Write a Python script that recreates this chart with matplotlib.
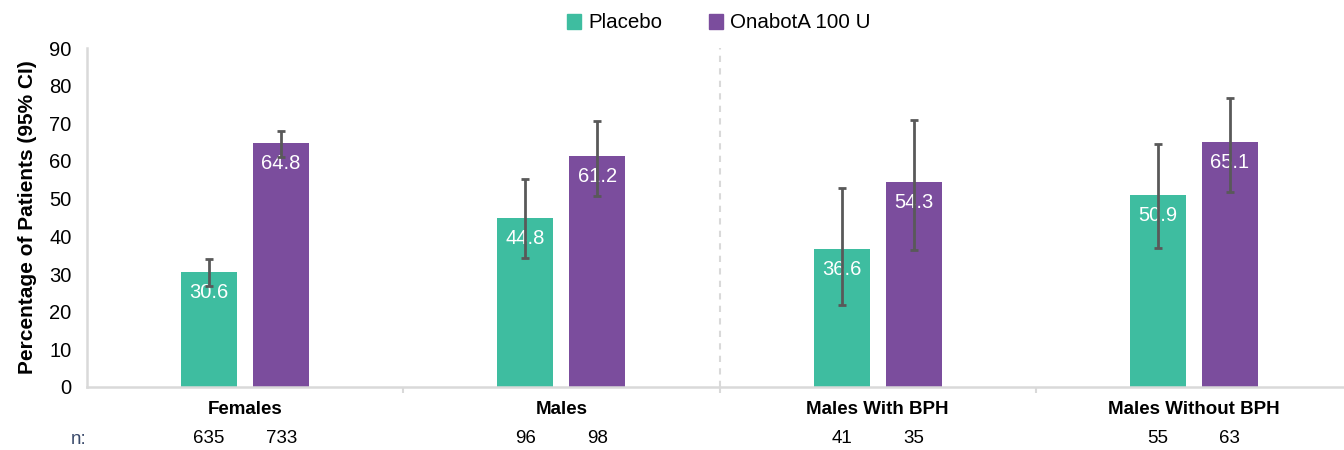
import matplotlib
matplotlib.use("Agg")
import matplotlib.pyplot as plt
import numpy as np
from matplotlib.patches import Patch

plt.rcParams['font.family'] = ['Liberation Sans', 'DejaVu Sans']

categories = ["Females", "Males", "Males With BPH", "Males Without BPH"]
placebo = [30.6, 44.8, 36.6, 50.9]
placebo_lo = [26.8, 34.3, 21.8, 36.9]
placebo_hi = [34.1, 55.1, 52.9, 64.5]
onabot = [64.8, 61.2, 54.3, 65.1]
onabot_lo = [61.0, 50.6, 36.3, 51.7]
onabot_hi = [68.0, 70.7, 70.9, 76.6]
n_placebo = [635, 96, 41, 55]
n_onabot = [733, 98, 35, 63]
series_names = ["Placebo", "OnabotA 100 U"]
yticks = list(range(0, 100, 10))

c_pl = "#3EBDA0"
c_on = "#7B4D9D"
grid_c = "#D9D9D9"
err_c = "#595959"

W, H = 1344, 450
fig = plt.figure(figsize=(W/100, H/100), dpi=100)
ax = fig.add_axes([87/W, (H-387)/H, (W-87)/W, (387-48)/H])

x = np.arange(len(categories))
bw = 0.177
off = 0.114

for vals, lo, hi, col, sgn in [(placebo, placebo_lo, placebo_hi, c_pl, -1),
                               (onabot, onabot_lo, onabot_hi, c_on, 1)]:
    xs = x + sgn*off
    ax.bar(xs, vals, width=bw, color=col, zorder=2)
    vals_a = np.array(vals); lo_a = np.array(lo); hi_a = np.array(hi)
    ax.errorbar(xs, vals_a, yerr=[vals_a-lo_a, hi_a-vals_a], fmt='none',
                ecolor=err_c, elinewidth=2, capsize=3, capthick=2, zorder=4)
    for xi, v in zip(xs, vals):
        ax.text(xi, v - 5.4, f"{v:.1f}", ha='center', va='center', color='white',
                fontsize=14.5, zorder=3)

ax.set_xlim(-0.5, 3.5 - 8/316)
ax.set_ylim(0, 90)
ax.set_yticks(yticks)
ax.set_yticklabels([str(t) for t in yticks], fontsize=14.5)
ax.tick_params(axis='y', length=0, pad=11)
ax.set_ylabel("Percentage of Patients (95% CI)", fontsize=15, fontweight='bold', labelpad=9)

ax.set_xticks([0.5, 1.5, 2.5])
ax.set_xticklabels([])
ax.tick_params(axis='x', length=4, width=1.5, color=grid_c, direction='out')

for s in ['top', 'right']:
    ax.spines[s].set_visible(False)
for s in ['left', 'bottom']:
    ax.spines[s].set_color(grid_c)
    ax.spines[s].set_linewidth(1.8)

ax.axvline(1.5, color=grid_c, linestyle=(0, (3, 3)), linewidth=1.5, zorder=1)

trans = ax.get_xaxis_transform()
for xi, cat in zip(x, categories):
    ax.text(xi, -0.066, cat, transform=trans, ha='center', va='center',
            fontsize=13.5, fontweight='bold', color='black')
for xi, a, b in zip(x, n_placebo, n_onabot):
    ax.text(xi - off, -0.153, str(a), transform=trans, ha='center', va='center', fontsize=13.5)
    ax.text(xi + off, -0.153, str(b), transform=trans, ha='center', va='center', fontsize=13.5)
fig.text(79/W, 1 - 439/H, "n:", ha='center', va='center', fontsize=13.5, color="#3A4A6B")

handles = [Patch(color=c_pl, label=series_names[0]), Patch(color=c_on, label=series_names[1])]
fig.legend(handles=handles, loc='center', bbox_to_anchor=(719/W, 1 - 23/H), ncol=2,
           frameon=False, fontsize=14.8, handlelength=0.7, handleheight=0.7,
           columnspacing=2.25, handletextpad=0.35)

fig.savefig("out.png", dpi=100)
